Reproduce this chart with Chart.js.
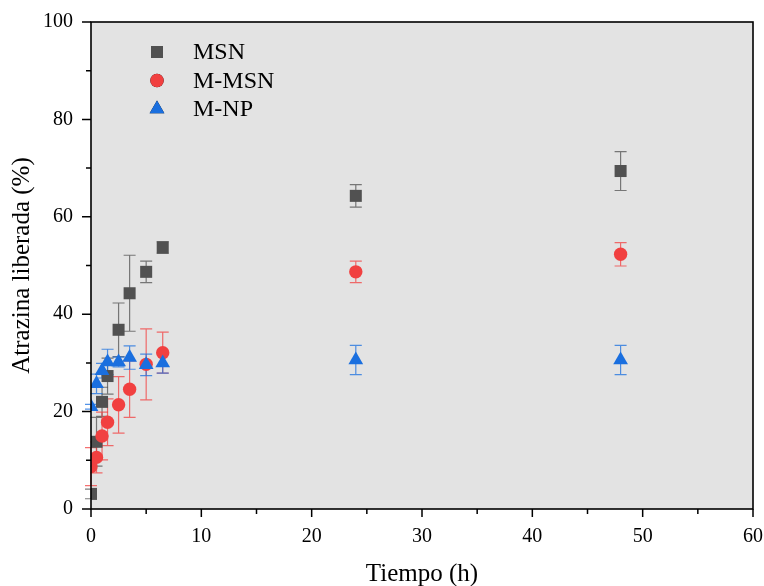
<!DOCTYPE html>
<html>
<head>
<meta charset="utf-8">
<script src="https://cdn.jsdelivr.net/npm/chart.js@4.4.0/dist/chart.umd.min.js"></script>
<style>
  html, body { margin: 0; padding: 0; background: #ffffff; }
  #wrap { width: 764px; height: 586px; }
</style>
</head>
<body>
<div id="wrap"><canvas id="chart" width="764" height="586"></canvas></div>
<script>
// datos
var tiempos = [0, 0.5, 1, 1.5, 2.5, 3.5, 5, 6.5, 24, 48];
var msn = [3.1, 13.8, 22.0, 27.3, 36.8, 44.3, 48.7, 53.7, 64.3, 69.4];
var msnErr = [1, 5, 3, 3.7, 5.5, 7.8, 2.2, 1.2, 2.3, 4];
var mmsn = [8.7, 10.6, 15.0, 17.8, 21.4, 24.6, 29.7, 32.1, 48.7, 52.3];
var mmsnErr = [3.9, 3.2, 4.9, 4.8, 5.8, 5.8, 7.3, 4.2, 2.2, 2.4];
var mnp = [21.0, 25.7, 28.4, 30.2, 30.2, 31.1, 29.6, 30.0, 30.6, 30.6];
var mnpErr = [0.5, 2, 1.5, 2.6, 1, 2.4, 2.2, 2.1, 3, 3];
var nombres = ["MSN", "M-MSN", "M-NP"];
var xTicks = [0, 10, 20, 30, 40, 50, 60];
var yTicks = [0, 20, 40, 60, 80, 100];

var colores = ['#515151', '#F14040', '#1A6FDF'];
var FONT = "'Liberation Serif', 'Times New Roman', serif";

function puntos(ys) {
    return tiempos.map(function (t, i) { return { x: t, y: ys[i] }; });
}

// fondo gris y marco
var fondo = {
    id: 'fondo',
    beforeDraw: function (chart) {
        var a = chart.chartArea, ctx = chart.ctx;
        ctx.save();
        ctx.fillStyle = '#e3e3e3';
        ctx.fillRect(a.left, a.top, a.right - a.left, a.bottom - a.top);
        ctx.restore();
    },
    afterDatasetsDraw: function (chart) {
        var a = chart.chartArea, ctx = chart.ctx;
        var xs = chart.scales.x, ys = chart.scales.y;
        ctx.save();
        ctx.strokeStyle = '#000';
        ctx.lineWidth = 1.6;
        ctx.strokeRect(a.left, a.top, a.right - a.left, a.bottom - a.top);
        ctx.lineWidth = 1.5;
        ctx.beginPath();
        for (var v = 0; v <= 60; v += 5) {
            var px = xs.getPixelForValue(v);
            var len = (v % 10 === 0) ? 8 : 5;
            ctx.moveTo(px, a.bottom);
            ctx.lineTo(px, a.bottom + len);
        }
        for (var w = 0; w <= 100; w += 10) {
            var py = ys.getPixelForValue(w);
            var l2 = (w % 20 === 0) ? 9 : 5;
            ctx.moveTo(a.left, py);
            ctx.lineTo(a.left - l2, py);
        }
        ctx.stroke();
        ctx.restore();
    }
};

// barras de error
var errores = {
    id: 'errores',
    beforeDatasetsDraw: function (chart) {
        var ctx = chart.ctx, xs = chart.scales.x, ys = chart.scales.y;
        var errs = [msnErr, mmsnErr, mnpErr];
        var vals = [msn, mmsn, mnp];
        ctx.save();
        ctx.lineWidth = 1.2;
        for (var d = 0; d < 3; d++) {
            ctx.strokeStyle = colores[d];
            ctx.globalAlpha = 0.75;
            for (var i = 0; i < tiempos.length; i++) {
                var px = xs.getPixelForValue(tiempos[i]);
                var top = ys.getPixelForValue(vals[d][i] + errs[d][i]);
                var bot = ys.getPixelForValue(vals[d][i] - errs[d][i]);
                ctx.beginPath();
                ctx.moveTo(px, top); ctx.lineTo(px, bot);
                ctx.moveTo(px - 6, top); ctx.lineTo(px + 6, top);
                ctx.moveTo(px - 6, bot); ctx.lineTo(px + 6, bot);
                ctx.stroke();
            }
        }
        ctx.restore();
    }
};

// leyenda dentro del area
var leyenda = {
    id: 'leyenda',
    afterDraw: function (chart) {
        var ctx = chart.ctx;
        var estilos = ['rect', 'circle', 'triangle'];
        var radios = [8.5, 6.7, 8.5];
        ctx.save();
        for (var i = 0; i < nombres.length; i++) {
            var y = 52 + i * 28.5;
            Chart.helpers.drawPoint(ctx, {
                pointStyle: estilos[i], radius: radios[i], rotation: 0, borderWidth: 0
            }, 157, y);
            ctx.fillStyle = colores[i];
            ctx.fill();
            ctx.fillStyle = '#000';
            ctx.font = '24px ' + FONT;
            ctx.textBaseline = 'middle';
            ctx.textAlign = 'left';
            ctx.fillText(nombres[i], 193, y + 1);
        }
        ctx.restore();
    }
};

var ctx = document.getElementById('chart');
var chart = new Chart(ctx, {
    type: 'scatter',
    data: {
        datasets: [{
            label: nombres[0],
            data: puntos(msn),
            pointStyle: 'rect',
            pointRadius: 8.5,
            backgroundColor: colores[0],
            borderWidth: 0,
            order: 3
        }, {
            label: nombres[1],
            data: puntos(mmsn),
            pointStyle: 'circle',
            pointRadius: 6.7,
            backgroundColor: colores[1],
            borderWidth: 0,
            order: 2
        }, {
            label: nombres[2],
            data: puntos(mnp),
            pointStyle: 'triangle',
            pointRadius: 8.5,
            backgroundColor: colores[2],
            borderWidth: 0,
            order: 1
        }]
    },
    options: {
        responsive: false,
        animation: false,
        layout: { padding: { left: 0, right: 11, top: 22, bottom: 0 } },
        plugins: {
            legend: { display: false },
            tooltip: { enabled: false }
        },
        scales: {
            x: {
                type: 'linear',
                min: 0,
                max: 60,
                grid: { display: false, drawTicks: false },
                border: { display: false },
                afterBuildTicks: function (s) { s.ticks = xTicks.map(function (v) { return { value: v }; }); },
                ticks: {
                    padding: 16,
                    color: '#000',
                    font: { family: FONT, size: 20 },
                    maxRotation: 0
                },
                title: {
                    display: true,
                    text: 'Tiempo (h)',
                    color: '#000',
                    font: { family: FONT, size: 25, lineHeight: 1 },
                    padding: { top: 0, bottom: -1 }
                },
                afterFit: function (s) {
                    s.height = 77;
                    s.paddingLeft = 0; s.paddingRight = 0;
                }
            },
            y: {
                type: 'linear',
                min: 0,
                max: 100,
                grid: { display: false, drawTicks: false },
                border: { display: false },
                afterBuildTicks: function (s) { s.ticks = yTicks.map(function (v) { return { value: v }; }); },
                ticks: {
                    padding: 18,
                    color: '#000',
                    font: { family: FONT, size: 20 }
                },
                title: {
                    display: true,
                    text: 'Atrazina liberada (%)',
                    color: '#000',
                    font: { family: FONT, size: 25, lineHeight: 1 },
                    padding: { top: 10, bottom: 0 }
                },
                afterFit: function (s) {
                    s.width = 91;
                    s.paddingTop = 0; s.paddingBottom = 0;
                }
            }
        }
    },
    plugins: [fondo, errores, leyenda]
});
</script>
</body>
</html>
